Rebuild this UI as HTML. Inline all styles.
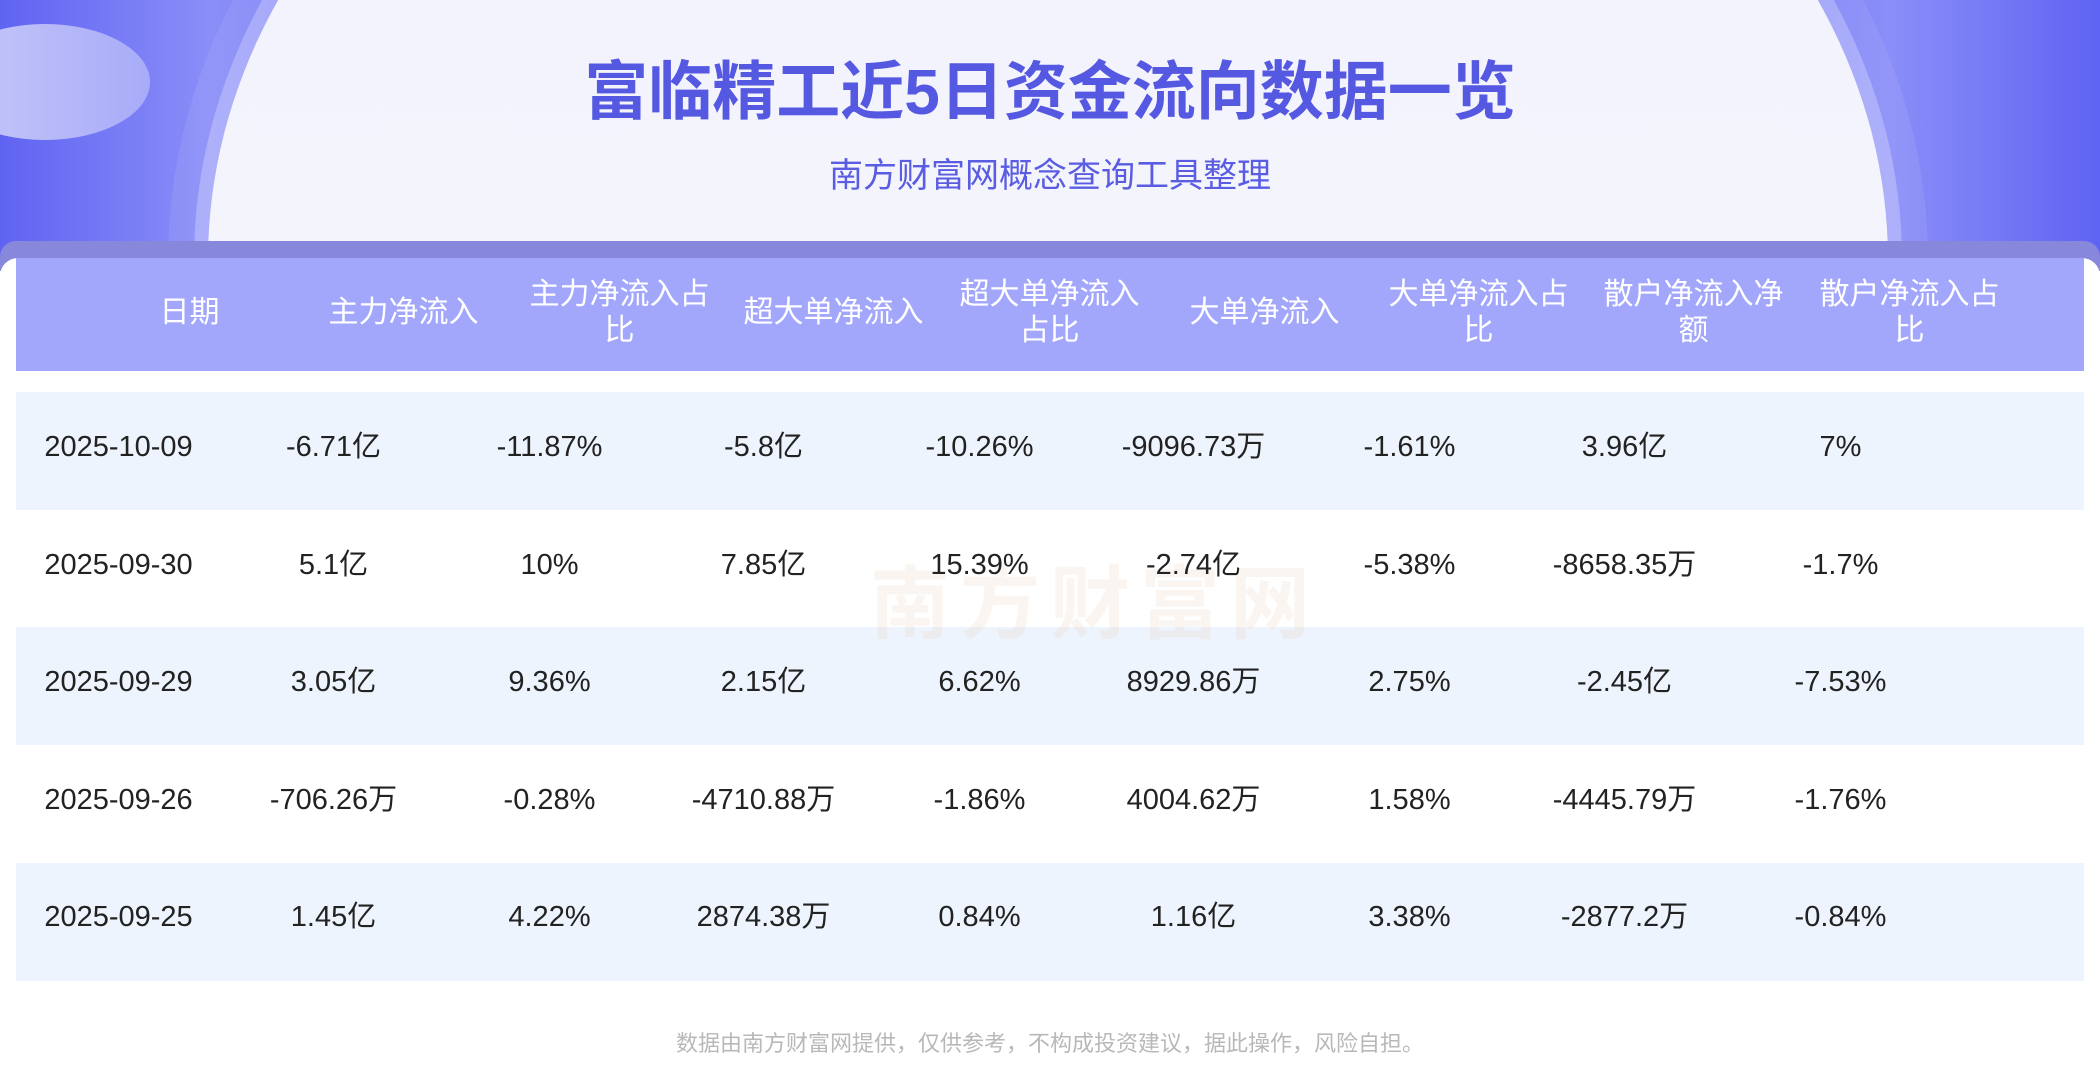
<!DOCTYPE html>
<html><head><meta charset="utf-8"><style>
*{margin:0;padding:0;box-sizing:border-box}
body{width:2100px;height:1088px;position:relative;overflow:hidden;background:#fff;font-family:"Liberation Sans","Noto Sans CJK SC",sans-serif}
.bg{position:absolute;left:0;top:0;width:2100px;height:260px;background:linear-gradient(90deg,#5f63f2,#8a8ef8 10%,#6c70f5 20%,#6c70f5 80%,#8a8ef8 90%,#5f63f2);overflow:hidden}
.ell{position:absolute;left:208px;top:-390px;width:1680px;height:1300px;border-radius:50%;background:linear-gradient(180deg,#dcdcfb,#f3f3fd 30%,#f6f6fe);box-shadow:0 0 0 14px rgba(255,255,255,.25),0 0 0 40px rgba(255,255,255,.08)}
.small{position:absolute;left:-60px;top:24px;width:210px;height:116px;border-radius:50%;background:linear-gradient(90deg,#c8caf9,#a8abf8)}
.title{position:absolute;left:0;width:2100px;top:41px;text-align:center;font-size:64px;font-weight:bold;color:#5558e0}
.sub{position:absolute;left:0;width:2100px;top:148px;text-align:center;font-size:34px;color:#5a5de2}
.band{position:absolute;left:0;top:241px;width:2100px;height:30px;background:#8787dc;border-radius:16px 16px 0 0}
.card{position:absolute;left:0;top:258px;width:2100px;height:830px;background:#fff;border-radius:18px 18px 0 0}
.hdr{position:absolute;left:16px;top:258px;width:2068px;height:113px;background:#a3a7fc}
.h{position:absolute;top:256px;height:113px;width:215px;display:flex;align-items:center;justify-content:center;text-align:center;color:#fff;font-size:30px;line-height:36px}
.row{position:absolute;left:16px;width:2068px;height:118px}
.c{position:absolute;width:215px;text-align:center;font-size:29px;color:#222;line-height:118px}
.foot{position:absolute;left:0;width:2100px;top:1026px;text-align:center;font-size:22px;color:#b8b8b8}
.wm{position:absolute;left:870px;top:540px;font-size:80px;color:rgba(230,200,170,.18);font-weight:bold;letter-spacing:10px}
</style></head><body>
<div class="bg"><div class="ell"></div><div class="small"></div></div>
<div class="title">富临精工近5日资金流向数据一览</div>
<div class="sub">南方财富网概念查询工具整理</div>
<div class="band"></div>
<div class="card"></div>
<div class="hdr"></div>
<div class="h" style="left:82px">日期</div>
<div class="h" style="left:296px">主力净流入</div>
<div class="h" style="left:512px">主力净流入占<br>比</div>
<div class="h" style="left:726px">超大单净流入</div>
<div class="h" style="left:942px">超大单净流入<br>占比</div>
<div class="h" style="left:1157px">大单净流入</div>
<div class="h" style="left:1371px">大单净流入占<br>比</div>
<div class="h" style="left:1586px">散户净流入净<br>额</div>
<div class="h" style="left:1802px">散户净流入占<br>比</div>

<div class="row" style="top:392px;background:#eef4fd"></div>
<div class="row" style="top:627px;background:#eef4fd"></div>
<div class="row" style="top:863px;background:#eef4fd"></div>
<div class="wm">南方财富网</div>

<div id="rows"></div>
<script>
var d=[["2025-10-09","-6.71亿","-11.87%","-5.8亿","-10.26%","-9096.73万","-1.61%","3.96亿","7%"],
["2025-09-30","5.1亿","10%","7.85亿","15.39%","-2.74亿","-5.38%","-8658.35万","-1.7%"],
["2025-09-29","3.05亿","9.36%","2.15亿","6.62%","8929.86万","2.75%","-2.45亿","-7.53%"],
["2025-09-26","-706.26万","-0.28%","-4710.88万","-1.86%","4004.62万","1.58%","-4445.79万","-1.76%"],
["2025-09-25","1.45亿","4.22%","2874.38万","0.84%","1.16亿","3.38%","-2877.2万","-0.84%"]];
var cx=[118,333,549,763,979,1193,1409,1624,1840],h="";
for(var i=0;i<5;i++)for(var j=0;j<9;j++)h+='<div class="c" style="top:'+(388+i*117.6)+'px;left:'+(cx[j]-107)+'px">'+d[i][j]+'</div>';
document.getElementById("rows").innerHTML=h;
</script>
<div class="foot">数据由南方财富网提供，仅供参考，不构成投资建议，据此操作，风险自担。</div>
</body></html>
